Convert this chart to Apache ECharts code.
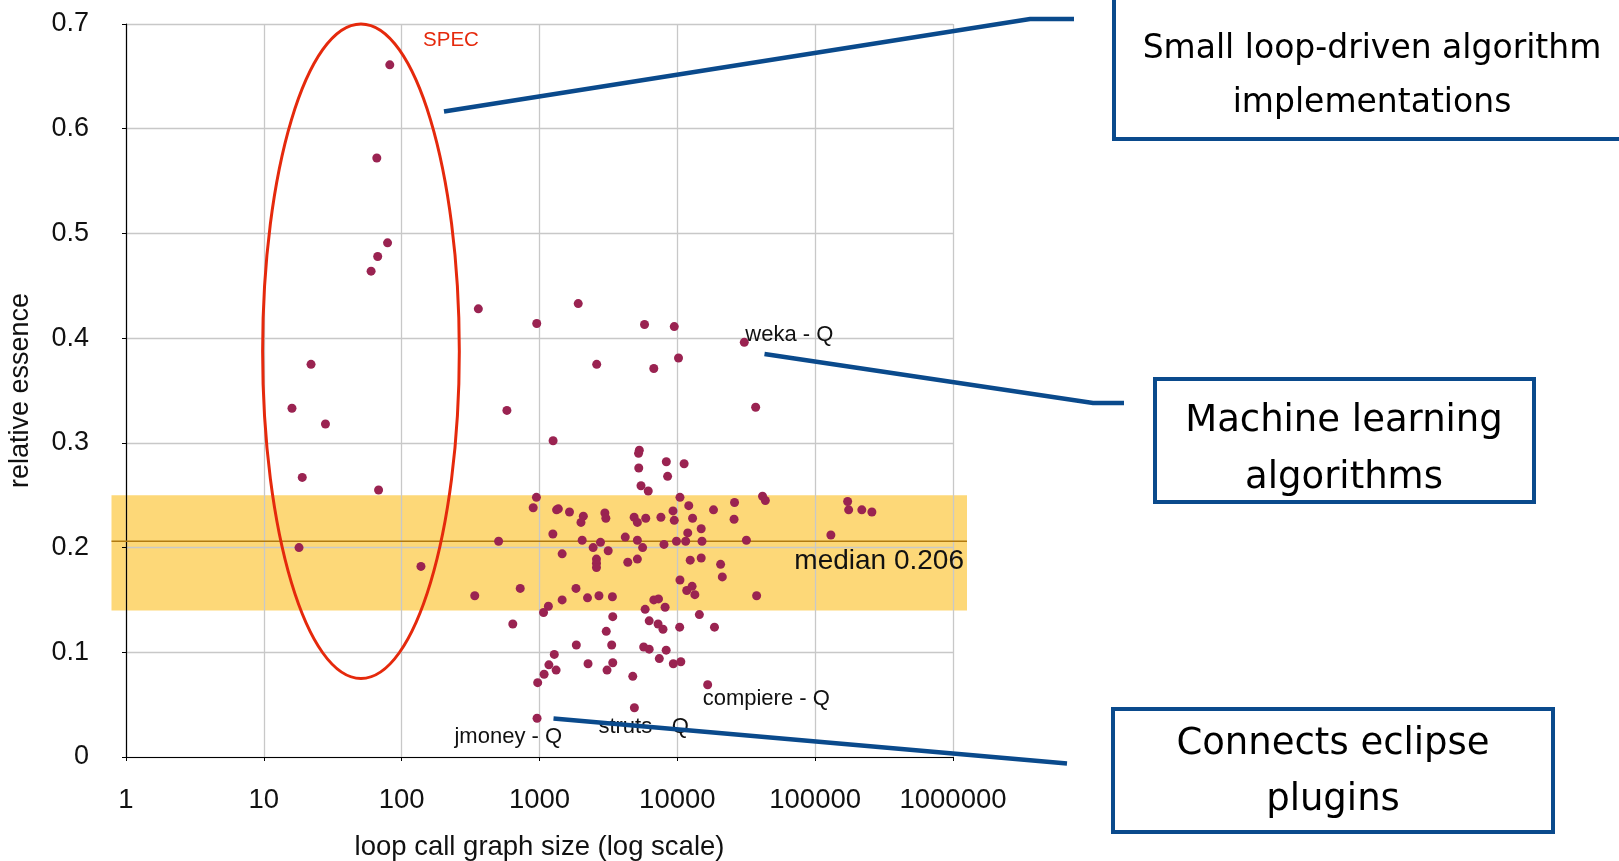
<!DOCTYPE html>
<html><head><meta charset="utf-8">
<script src="https://cdn.jsdelivr.net/npm/echarts@6/dist/echarts.min.js"></script>
<style>html,body{margin:0;padding:0;background:#fff}#chart{width:1619px;height:861px}</style>
</head><body><div id="chart"></div>
<script>
// ---- tick labels ----
const xTickLabels = ['1', '10', '100', '1000', '10000', '100000', '1000000'];
const yTickLabels = ['0', '0.1', '0.2', '0.3', '0.4', '0.5', '0.6', '0.7'];

// ---- series values: loop call graph size (x, log scale) and relative essence (y) ----
const loopCallGraphSize = [
  82, 66, 79, 67, 60, 22, 16, 28, 19, 68, 18, 138, 360, 339, 505, 580, 725, 640,
  955, 1910, 5780, 9500, 30600, 2600, 6750, 10200, 37000, 1255,
  5300, 5230, 8320, 11200, 5250, 8500, 5450, 6150,
  950, 10450, 900, 1330, 1370, 1650, 2080, 2000, 2980, 3030, 4860, 5130, 5900, 7600, 9300, 9500,
  12100, 12900, 18300, 26000, 25800, 41500, 43500, 172000, 175000, 218000, 258000, 130000,
  1250, 11900, 14900,
  2040, 2770, 2450, 3150, 4190, 5130, 5600, 8000, 9850, 11500, 15100, 31700,
  1460, 2590, 2590, 2590, 4370, 5130, 12400, 14900, 20600, 21200, 10450, 11700, 12800, 13400, 37600,
  1840, 1460, 2230, 2700, 3380, 6750, 7300, 8150, 5840, 1160, 1070, 3400, 14450, 18600, 10400,
  6250, 7250, 7870, 3050, 3340, 1850, 5700, 6250, 8300, 1280, 7400, 1170, 1320, 1080,
  2250, 3400, 3090, 9350, 10600, 4750, 970, 16600, 4880, 960
];
const relativeEssence = [
  0.661, 0.572, 0.491, 0.478, 0.464, 0.375, 0.333, 0.318, 0.267, 0.255, 0.200, 0.182, 0.428, 0.154, 0.206, 0.331, 0.161, 0.127,
  0.414, 0.433, 0.413, 0.411, 0.396, 0.375, 0.371, 0.381, 0.334, 0.302,
  0.293, 0.290, 0.282, 0.280, 0.276, 0.268, 0.259, 0.254,
  0.248, 0.248, 0.238, 0.236, 0.237, 0.234, 0.230, 0.224, 0.233, 0.228, 0.229, 0.224, 0.228, 0.229, 0.235, 0.226,
  0.240, 0.228, 0.236, 0.243, 0.227, 0.249, 0.245, 0.244, 0.236, 0.236, 0.234, 0.212,
  0.213, 0.214, 0.218,
  0.207, 0.205, 0.200, 0.197, 0.210, 0.207, 0.200, 0.203, 0.206, 0.206, 0.206, 0.207,
  0.194, 0.189, 0.185, 0.181, 0.186, 0.189, 0.188, 0.190, 0.184, 0.172, 0.169, 0.159, 0.163, 0.155, 0.154,
  0.161, 0.150, 0.152, 0.154, 0.153, 0.150, 0.151, 0.143, 0.141, 0.144, 0.138, 0.134, 0.136, 0.124, 0.124,
  0.130, 0.127, 0.122, 0.120, 0.107, 0.107, 0.105, 0.103, 0.102, 0.098, 0.094, 0.088, 0.083, 0.079,
  0.089, 0.090, 0.083, 0.089, 0.091, 0.077, 0.071, 0.069, 0.047, 0.037
];

// ---- named points ----
const labelNames = ['weka - Q', 'compiere - Q', 'struts - Q', 'jmoney - Q'];
const labelX = [30600, 16600, 4880, 960];
const labelY = [0.396, 0.069, 0.047, 0.037];

// ---- median band ----
const medianValue = 0.206;
const bandRange = [0.14, 0.25];

// ---- SPEC ellipse (data extents) ----
const specName = 'SPEC';
const specXRange = [9.8, 262];
const specYRange = [0.075, 0.70];

// ---- callout texts ----
const calloutTexts = [
  'Small loop-driven algorithm\nimplementations',
  'Machine learning\nalgorithms',
  'Connects eclipse\nplugins'
];

const chart = echarts.init(document.getElementById('chart'), null, { renderer: 'canvas' });
const points = loopCallGraphSize.map((x, i) => [x, relativeEssence[i]]);
const FONT = '"Liberation Sans", Arial, Helvetica, sans-serif';

chart.setOption({
  animation: false,
  backgroundColor: '#ffffff',
  grid: { left: 126, right: 666, top: 24, bottom: 104, containLabel: false, outerBoundsMode: 'none' },
  xAxis: {
    type: 'log', logBase: 10, min: 1, max: 1000000,
    name: 'loop call graph size (log scale)',
    nameLocation: 'middle', nameGap: 76,
    nameTextStyle: { fontFamily: FONT, fontSize: 27.5, color: '#111' },
    axisLine: { show: true, lineStyle: { color: '#000', width: 1.2 } },
    axisTick: { show: true, length: 4, inside: false, lineStyle: { color: '#000' } },
    minorTick: { show: false },
    axisLabel: {
      margin: 29, fontFamily: FONT, fontSize: 27.5, color: '#111',
      formatter: v => xTickLabels[Math.round(Math.log10(v))]
    },
    splitLine: { show: true, lineStyle: { color: '#c8c8c8', width: 1.3 } }
  },
  yAxis: {
    type: 'value', min: 0, max: 0.7, interval: 0.1,
    name: 'relative essence',
    nameLocation: 'middle', nameGap: 92, nameRotate: 90,
    nameTextStyle: { fontFamily: FONT, fontSize: 27, color: '#111' },
    axisLine: { show: true, lineStyle: { color: '#000', width: 1.2 } },
    axisTick: { show: true, length: 4, inside: false, lineStyle: { color: '#000' } },
    axisLabel: {
      margin: 37, fontFamily: FONT, fontSize: 27, color: '#111', padding: [10, 0, 0, 0],
      formatter: v => yTickLabels[Math.round(v * 10)]
    },
    splitLine: { show: true, lineStyle: { color: '#c8c8c8', width: 1.3 } }
  },
  series: [{
    type: 'scatter',
    data: points,
    symbolSize: 9,
    itemStyle: { color: '#9a2351', opacity: 1 },
    z: 3,
    silent: true
  }]
});

function px(x, y) { return chart.convertToPixel({ xAxisIndex: 0, yAxisIndex: 0 }, [x, y]); }

const bandTop = px(1, bandRange[1])[1];
const bandBot = px(1, bandRange[0])[1];
const medY = px(1, medianValue)[1];
const bandL = 111.5, bandR = 967;

const eL = px(specXRange[0], 0.3)[0];
const eR = px(specXRange[1], 0.3)[0];
const eT = px(1, specYRange[1])[1];
const eB = px(1, specYRange[0])[1];

const BLUE = '#0a4a8c';
const elements = [];
elements.push({ type: 'rect', z: -10, silent: true,
  shape: { x: bandL, y: bandTop, width: bandR - bandL, height: bandBot - bandTop },
  style: { fill: '#fdd878' } });
elements.push({ type: 'line', z: 1, silent: true,
  shape: { x1: bandL, y1: medY, x2: bandR, y2: medY },
  style: { stroke: '#b07a12', lineWidth: 1.6 } });
elements.push({ type: 'text', z: 5, silent: true,
  x: 964, y: medY + 20,
  style: { text: 'median ' + medianValue, font: '28px ' + FONT, fill: '#111', align: 'right', verticalAlign: 'middle' } });
elements.push({ type: 'ellipse', z: 5, silent: true,
  shape: { cx: (eL + eR) / 2, cy: (eT + eB) / 2, rx: (eR - eL) / 2, ry: (eB - eT) / 2 },
  style: { fill: 'none', stroke: '#e5290c', lineWidth: 3 } });
const specPos = px(228, 0.684);
elements.push({ type: 'text', z: 5, silent: true,
  x: specPos[0], y: specPos[1],
  style: { text: specName, font: '20.5px ' + FONT, fill: '#e5290c', align: 'center', verticalAlign: 'middle' } });

// point labels: offsets relative to the point
const labelOffsets = [[1, -7, 'left'], [-5, 14, 'left'], [-36, 19, 'left'], [25, 19, 'right']];
labelNames.forEach((n, i) => {
  const p = px(labelX[i], labelY[i]);
  const o = labelOffsets[i];
  elements.push({ type: 'text', z: 4, silent: true,
    x: p[0] + o[0], y: p[1] + o[1],
    style: { text: n, font: '22px ' + FONT, fill: '#111', align: o[2], verticalAlign: 'middle' } });
});

// callout connector lines
const connectors = [
  [[444, 111.5], [1030, 19], [1074, 19]],
  [[764.5, 354], [1093, 403], [1124, 403]],
  [[553.5, 718.5], [1067, 763.5]]
];
connectors.forEach(pts => elements.push({ type: 'polyline', z: 6, silent: true,
  shape: { points: pts }, style: { stroke: BLUE, lineWidth: 4.5, fill: null } }));

// callout boxes
const boxes = [
  { x: 1114, y: -20, w: 560, h: 159, cx: 1372, cy: 76, fs: 33, lh: 54 },
  { x: 1155, y: 379, w: 379, h: 123, cx: 1344, cy: 449.5, fs: 37, lh: 57 },
  { x: 1113, y: 709, w: 440, h: 123, cx: 1333, cy: 772, fs: 37, lh: 56 }
];
boxes.forEach((b, i) => {
  elements.push({ type: 'rect', z: 6, silent: true,
    shape: { x: b.x, y: b.y, width: b.w, height: b.h },
    style: { fill: 'none', stroke: BLUE, lineWidth: 4 } });
  elements.push({ type: 'text', z: 6, silent: true,
    x: b.cx, y: b.cy,
    style: { text: calloutTexts[i], font: b.fs + 'px "DejaVu Sans", sans-serif', lineHeight: b.lh,
      fill: '#000', align: 'center', verticalAlign: 'middle' } });
});

chart.setOption({ graphic: { elements: elements } });
</script>
</body></html>
